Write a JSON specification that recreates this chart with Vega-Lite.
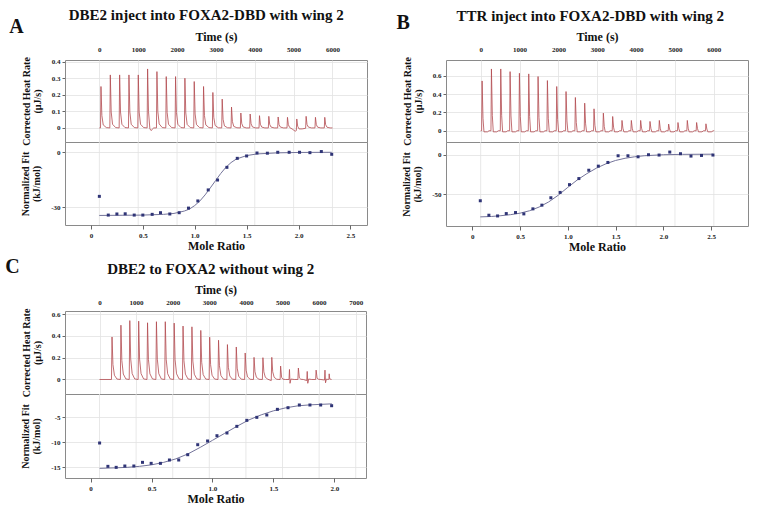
{
"$schema": "https://vega.github.io/schema/vega-lite/v6.json",
"background": "white",
"padding": {"left": 4, "top": 7, "right": 5, "bottom": 2},
"config": {
  "font": "Liberation Serif",
  "concat": {"spacing": 0},
  "view": {"stroke": "#8a8a8a", "strokeWidth": 1},
  "title": {"font": "Liberation Serif", "fontWeight": "bold", "fontSize": 15, "color": "#111111", "anchor": "middle"},
  "axis": {"labelFont": "Liberation Serif", "labelFontWeight": "bold", "labelFontSize": 7, "labelColor": "#222222",
           "titleFont": "Liberation Serif", "titleFontWeight": "bold", "titleColor": "#111111",
           "domain": false, "gridColor": "#e2e2e2", "gridWidth": 0.8, "tickColor": "#666666", "tickSize": 3},
  "axisY": {"titleFontSize": 10, "titleLineHeight": 11, "titlePadding": 9, "labelPadding": 2,
            "labelExpr": "datum.value < 0 ? '-' + format(-datum.value, '~g') : format(datum.value, '~g')"}
},
"datasets": {
  "gridT6": [{"t":0},{"t":1000},{"t":2000},{"t":3000},{"t":4000},{"t":5000},{"t":6000}],
  "gridT7": [{"t":0},{"t":1000},{"t":2000},{"t":3000},{"t":4000},{"t":5000},{"t":6000},{"t":7000}],
  "thermoA": [
{"t":0,"q":0},{"t":30,"q":0},{"t":42,"q":0.25},{"t":65,"q":0.075},{"t":100,"q":0.018},{"t":180,"q":0.002},
{"t":270,"q":0},{"t":282,"q":0.32},{"t":305,"q":0.096},{"t":340,"q":0.022},{"t":420,"q":0.002},
{"t":510,"q":0},{"t":522,"q":0.32},{"t":545,"q":0.096},{"t":580,"q":0.022},{"t":660,"q":0.002},
{"t":750,"q":0},{"t":762,"q":0.32},{"t":785,"q":0.096},{"t":820,"q":0.022},{"t":900,"q":0.002},
{"t":990,"q":0},{"t":1002,"q":0.32},{"t":1025,"q":0.096},{"t":1060,"q":0.022},{"t":1140,"q":0.002},
{"t":1230,"q":0},{"t":1242,"q":0.356},{"t":1265,"q":0.1},{"t":1300,"q":-0.005},{"t":1330,"q":-0.016},{"t":1400,"q":0},
{"t":1470,"q":0},{"t":1482,"q":0.34},{"t":1505,"q":0.1},{"t":1540,"q":0.024},{"t":1620,"q":0.002},
{"t":1710,"q":0},{"t":1722,"q":0.31},{"t":1745,"q":0.093},{"t":1780,"q":0.022},{"t":1860,"q":0.002},
{"t":1950,"q":0},{"t":1962,"q":0.31},{"t":1985,"q":0.093},{"t":2020,"q":0.022},{"t":2100,"q":0.002},
{"t":2190,"q":0},{"t":2202,"q":0.30},{"t":2225,"q":0.09},{"t":2260,"q":0.021},{"t":2340,"q":0.002},
{"t":2430,"q":0},{"t":2442,"q":0.28},{"t":2465,"q":0.084},{"t":2500,"q":0.02},{"t":2580,"q":0.002},
{"t":2670,"q":0},{"t":2682,"q":0.25},{"t":2705,"q":0.075},{"t":2740,"q":0.018},{"t":2820,"q":0.002},
{"t":2910,"q":0},{"t":2922,"q":0.214},{"t":2945,"q":0.064},{"t":2980,"q":0.015},{"t":3060,"q":0.001},
{"t":3150,"q":0},{"t":3162,"q":0.174},{"t":3185,"q":0.052},{"t":3220,"q":0.012},{"t":3300,"q":0.001},
{"t":3390,"q":0},{"t":3402,"q":0.126},{"t":3425,"q":0.038},{"t":3460,"q":0.009},{"t":3540,"q":0.001},
{"t":3630,"q":0},{"t":3642,"q":0.09},{"t":3665,"q":0.027},{"t":3700,"q":0.006},{"t":3780,"q":0},
{"t":3870,"q":0},{"t":3882,"q":0.084},{"t":3905,"q":0.025},{"t":3940,"q":0.006},{"t":4020,"q":0},
{"t":4110,"q":0},{"t":4122,"q":0.074},{"t":4145,"q":0.022},{"t":4180,"q":0.005},{"t":4260,"q":0},
{"t":4350,"q":0},{"t":4362,"q":0.07},{"t":4385,"q":0.021},{"t":4420,"q":0.005},{"t":4500,"q":0},
{"t":4590,"q":0},{"t":4602,"q":0.066},{"t":4625,"q":0.02},{"t":4660,"q":0.005},{"t":4740,"q":0},
{"t":4830,"q":0},{"t":4842,"q":0.064},{"t":4865,"q":0.019},{"t":4900,"q":0.002},{"t":4960,"q":-0.006},{"t":5040,"q":-0.02},
{"t":5070,"q":-0.016},{"t":5082,"q":0.054},{"t":5105,"q":0.01},{"t":5140,"q":-0.006},{"t":5220,"q":-0.006},
{"t":5310,"q":-0.002},{"t":5322,"q":0.07},{"t":5345,"q":0.021},{"t":5380,"q":0.005},{"t":5460,"q":0},
{"t":5550,"q":0},{"t":5562,"q":0.064},{"t":5585,"q":0.019},{"t":5620,"q":0.004},{"t":5700,"q":0},
{"t":5790,"q":0},{"t":5802,"q":0.064},{"t":5825,"q":0.019},{"t":5860,"q":0.004},{"t":5940,"q":0},{"t":6000,"q":0}
  ],
  "ptsA": [
{"mr":0.081,"h":-24.0},{"mr":0.167,"h":-34.2},{"mr":0.25,"h":-33.6},{"mr":0.33,"h":-33.5},{"mr":0.417,"h":-34.2},
{"mr":0.5,"h":-34.2},{"mr":0.59,"h":-33.8},{"mr":0.67,"h":-32.9},{"mr":0.76,"h":-33.6},{"mr":0.85,"h":-32.9},
{"mr":0.94,"h":-30.4},{"mr":1.03,"h":-26.5},{"mr":1.13,"h":-20.5},{"mr":1.22,"h":-15.1},{"mr":1.31,"h":-8.2},
{"mr":1.41,"h":-3.3},{"mr":1.5,"h":-2.0},{"mr":1.6,"h":-0.4},{"mr":1.7,"h":-0.5},{"mr":1.8,"h":0},
{"mr":1.91,"h":0},{"mr":2.01,"h":0},{"mr":2.11,"h":-0.2},{"mr":2.22,"h":0.4},{"mr":2.32,"h":-1.1}
  ],
  "fitA": [
{"mr":0.08,"h":-34.4},{"mr":0.3,"h":-34.3},{"mr":0.5,"h":-34.2},{"mr":0.7,"h":-33.8},{"mr":0.8,"h":-33.3},
{"mr":0.9,"h":-32.0},{"mr":0.95,"h":-30.9},{"mr":1.0,"h":-29.0},{"mr":1.05,"h":-26.5},{"mr":1.1,"h":-23.2},
{"mr":1.15,"h":-19.4},{"mr":1.2,"h":-15.5},{"mr":1.25,"h":-11.6},{"mr":1.3,"h":-8.2},{"mr":1.35,"h":-5.6},
{"mr":1.4,"h":-3.7},{"mr":1.5,"h":-1.8},{"mr":1.6,"h":-0.9},{"mr":1.8,"h":-0.3},{"mr":2.0,"h":-0.1},{"mr":2.32,"h":0}
  ],
  "thermoB": [
{"t":0,"q":0},{"t":25,"q":0},{"t":37,"q":0.545},{"t":60,"q":0.136},{"t":85,"q":-0.012},{"t":175,"q":-0.012},{"t":215,"q":0},
{"t":265,"q":0},{"t":277,"q":0.676},{"t":300,"q":0.169},{"t":325,"q":-0.012},{"t":415,"q":-0.012},{"t":455,"q":0},
{"t":505,"q":0},{"t":517,"q":0.676},{"t":540,"q":0.169},{"t":565,"q":-0.012},{"t":655,"q":-0.012},{"t":695,"q":0},
{"t":745,"q":0},{"t":757,"q":0.647},{"t":780,"q":0.162},{"t":805,"q":-0.012},{"t":895,"q":-0.012},{"t":935,"q":0},
{"t":985,"q":0},{"t":997,"q":0.629},{"t":1020,"q":0.157},{"t":1045,"q":-0.012},{"t":1135,"q":-0.012},{"t":1175,"q":0},
{"t":1225,"q":0},{"t":1237,"q":0.622},{"t":1260,"q":0.156},{"t":1285,"q":-0.012},{"t":1375,"q":-0.012},{"t":1415,"q":0},
{"t":1465,"q":0},{"t":1477,"q":0.593},{"t":1500,"q":0.148},{"t":1525,"q":-0.012},{"t":1615,"q":-0.012},{"t":1655,"q":0},
{"t":1705,"q":0},{"t":1717,"q":0.549},{"t":1740,"q":0.137},{"t":1765,"q":-0.012},{"t":1855,"q":-0.012},{"t":1895,"q":0},
{"t":1945,"q":0},{"t":1957,"q":0.484},{"t":1980,"q":0.121},{"t":2005,"q":-0.012},{"t":2095,"q":-0.012},{"t":2135,"q":0},
{"t":2185,"q":0},{"t":2197,"q":0.429},{"t":2220,"q":0.107},{"t":2245,"q":-0.012},{"t":2335,"q":-0.012},{"t":2375,"q":0},
{"t":2425,"q":0},{"t":2437,"q":0.364},{"t":2460,"q":0.091},{"t":2485,"q":-0.012},{"t":2575,"q":-0.012},{"t":2615,"q":0},
{"t":2665,"q":0},{"t":2677,"q":0.302},{"t":2700,"q":0.076},{"t":2725,"q":-0.012},{"t":2815,"q":-0.012},{"t":2855,"q":0},
{"t":2905,"q":0},{"t":2917,"q":0.24},{"t":2940,"q":0.06},{"t":2965,"q":-0.012},{"t":3055,"q":-0.012},{"t":3095,"q":0},
{"t":3145,"q":0},{"t":3157,"q":0.193},{"t":3180,"q":0.048},{"t":3205,"q":-0.012},{"t":3295,"q":-0.012},{"t":3335,"q":0},
{"t":3385,"q":0},{"t":3397,"q":0.156},{"t":3420,"q":0.039},{"t":3445,"q":-0.012},{"t":3535,"q":-0.012},{"t":3575,"q":0},
{"t":3625,"q":0},{"t":3637,"q":0.113},{"t":3660,"q":0.028},{"t":3685,"q":-0.012},{"t":3775,"q":-0.012},{"t":3815,"q":0},
{"t":3865,"q":0},{"t":3877,"q":0.113},{"t":3900,"q":0.028},{"t":3925,"q":-0.012},{"t":4015,"q":-0.012},{"t":4055,"q":0},
{"t":4105,"q":0},{"t":4117,"q":0.113},{"t":4140,"q":0.028},{"t":4165,"q":-0.012},{"t":4255,"q":-0.012},{"t":4295,"q":0},
{"t":4345,"q":0},{"t":4357,"q":0.102},{"t":4380,"q":0.026},{"t":4405,"q":-0.012},{"t":4495,"q":-0.012},{"t":4535,"q":0},
{"t":4585,"q":0},{"t":4597,"q":0.113},{"t":4620,"q":0.028},{"t":4645,"q":-0.012},{"t":4735,"q":-0.012},{"t":4775,"q":0},
{"t":4825,"q":0},{"t":4837,"q":0.073},{"t":4860,"q":0.018},{"t":4885,"q":-0.012},{"t":4975,"q":-0.012},{"t":5015,"q":0},
{"t":5065,"q":0},{"t":5077,"q":0.09},{"t":5100,"q":0.023},{"t":5125,"q":-0.012},{"t":5215,"q":-0.012},{"t":5255,"q":0},
{"t":5305,"q":0},{"t":5317,"q":0.113},{"t":5340,"q":0.028},{"t":5365,"q":-0.012},{"t":5455,"q":-0.012},{"t":5495,"q":0},
{"t":5545,"q":0},{"t":5557,"q":0.09},{"t":5580,"q":0.023},{"t":5605,"q":-0.012},{"t":5695,"q":-0.012},{"t":5735,"q":0},
{"t":5785,"q":0},{"t":5797,"q":0.076},{"t":5820,"q":0.019},{"t":5845,"q":-0.012},{"t":5935,"q":-0.012},{"t":5985,"q":0},{"t":6010,"q":0}
  ],
  "ptsB": [
{"mr":0.084,"h":-58.5},{"mr":0.174,"h":-76.9},{"mr":0.265,"h":-77.8},{"mr":0.356,"h":-74.8},{"mr":0.453,"h":-73.5},
{"mr":0.54,"h":-75.2},{"mr":0.635,"h":-68.8},{"mr":0.729,"h":-64.1},{"mr":0.823,"h":-54.7},{"mr":0.92,"h":-47.9},
{"mr":1.018,"h":-38.0},{"mr":1.116,"h":-30.3},{"mr":1.22,"h":-19.7},{"mr":1.32,"h":-14.5},{"mr":1.42,"h":-9.8},
{"mr":1.527,"h":-1.3},{"mr":1.63,"h":-1.3},{"mr":1.736,"h":-2.6},{"mr":1.845,"h":0},{"mr":1.956,"h":-0.4},
{"mr":2.068,"h":3.4},{"mr":2.18,"h":1.3},{"mr":2.29,"h":-1.7},{"mr":2.4,"h":-0.9},{"mr":2.52,"h":-0.4}
  ],
  "fitB": [
{"mr":0.084,"h":-79},{"mr":0.2,"h":-78.5},{"mr":0.3,"h":-77.5},{"mr":0.4,"h":-76.2},{"mr":0.5,"h":-74.3},
{"mr":0.6,"h":-71.2},{"mr":0.7,"h":-66.5},{"mr":0.8,"h":-60},{"mr":0.9,"h":-51.5},{"mr":1.0,"h":-41.5},
{"mr":1.1,"h":-32},{"mr":1.2,"h":-24},{"mr":1.3,"h":-17},{"mr":1.4,"h":-11.5},{"mr":1.5,"h":-7.3},
{"mr":1.6,"h":-4.5},{"mr":1.7,"h":-2.6},{"mr":1.8,"h":-1.3},{"mr":2.0,"h":0},{"mr":2.2,"h":0.5},{"mr":2.52,"h":0.7}
  ],
  "thermoC": [
{"t":0,"q":0},
{"t":327,"q":0},{"t":342,"q":0.39},{"t":367,"q":0.137},{"t":407,"q":0.039},{"t":477,"q":0.004},
{"t":570,"q":0},{"t":585,"q":0.498},{"t":610,"q":0.174},{"t":650,"q":0.05},{"t":720,"q":0.005},
{"t":812,"q":0},{"t":827,"q":0.54},{"t":852,"q":0.189},{"t":892,"q":0.054},{"t":962,"q":0.005},
{"t":1055,"q":0},{"t":1070,"q":0.535},{"t":1095,"q":0.187},{"t":1135,"q":0.054},{"t":1205,"q":0.005},
{"t":1297,"q":0},{"t":1312,"q":0.52},{"t":1337,"q":0.182},{"t":1377,"q":0.052},{"t":1447,"q":0.005},
{"t":1540,"q":0},{"t":1555,"q":0.53},{"t":1580,"q":0.186},{"t":1620,"q":0.053},{"t":1690,"q":0.005},
{"t":1782,"q":0},{"t":1797,"q":0.53},{"t":1822,"q":0.186},{"t":1862,"q":0.053},{"t":1932,"q":0.005},
{"t":2025,"q":0},{"t":2040,"q":0.517},{"t":2065,"q":0.181},{"t":2105,"q":0.052},{"t":2175,"q":0.005},
{"t":2267,"q":0},{"t":2282,"q":0.49},{"t":2307,"q":0.172},{"t":2347,"q":0.049},{"t":2417,"q":0.005},
{"t":2510,"q":0},{"t":2525,"q":0.483},{"t":2550,"q":0.169},{"t":2590,"q":0.048},{"t":2660,"q":0.005},
{"t":2752,"q":0},{"t":2767,"q":0.45},{"t":2792,"q":0.158},{"t":2832,"q":0.045},{"t":2902,"q":0.004},
{"t":2995,"q":0},{"t":3010,"q":0.388},{"t":3035,"q":0.136},{"t":3075,"q":0.039},{"t":3145,"q":0.004},
{"t":3237,"q":0},{"t":3252,"q":0.36},{"t":3277,"q":0.126},{"t":3317,"q":0.036},{"t":3387,"q":0.003},
{"t":3480,"q":0},{"t":3495,"q":0.32},{"t":3520,"q":0.112},{"t":3560,"q":0.032},{"t":3630,"q":0.003},
{"t":3722,"q":0},{"t":3737,"q":0.298},{"t":3762,"q":0.104},{"t":3802,"q":0.03},{"t":3872,"q":0.003},
{"t":3965,"q":0},{"t":3980,"q":0.243},{"t":4005,"q":0.085},{"t":4045,"q":0.024},{"t":4115,"q":0.002},
{"t":4207,"q":0},{"t":4222,"q":0.203},{"t":4247,"q":0.071},{"t":4287,"q":0.02},{"t":4357,"q":0.002},
{"t":4450,"q":0},{"t":4465,"q":0.2},{"t":4490,"q":0.07},{"t":4530,"q":0.02},{"t":4600,"q":0.002},
{"t":4692,"q":-0.01},{"t":4707,"q":0.203},{"t":4732,"q":0.071},{"t":4772,"q":0.02},{"t":4842,"q":0.002},
{"t":4935,"q":0},{"t":4948,"q":0.123},{"t":4975,"q":0.02},{"t":5010,"q":0.003},{"t":5080,"q":0},
{"t":5177,"q":0},{"t":5190,"q":0.092},{"t":5205,"q":-0.035},{"t":5230,"q":0.004},{"t":5320,"q":0},
{"t":5420,"q":0},{"t":5433,"q":0.105},{"t":5460,"q":0.015},{"t":5500,"q":0.002},{"t":5570,"q":0},
{"t":5662,"q":-0.01},{"t":5675,"q":0.074},{"t":5690,"q":-0.035},{"t":5715,"q":0.004},{"t":5800,"q":0},
{"t":5905,"q":0},{"t":5918,"q":0.086},{"t":5945,"q":0.012},{"t":5985,"q":0.002},{"t":6050,"q":0},
{"t":6147,"q":-0.005},{"t":6160,"q":0.086},{"t":6175,"q":-0.03},{"t":6200,"q":0.003},{"t":6255,"q":0},
{"t":6267,"q":0},{"t":6275,"q":0.052},{"t":6290,"q":0.005},{"t":6340,"q":0}
  ],
  "ptsC": [
{"mr":0.074,"h":-10.13},{"mr":0.142,"h":-14.8},{"mr":0.21,"h":-15.0},{"mr":0.281,"h":-14.73},{"mr":0.355,"h":-14.73},
{"mr":0.426,"h":-14.0},{"mr":0.497,"h":-14.2},{"mr":0.573,"h":-14.2},{"mr":0.647,"h":-13.53},{"mr":0.723,"h":-13.53},
{"mr":0.797,"h":-12.47},{"mr":0.879,"h":-10.47},{"mr":0.96,"h":-9.73},{"mr":1.037,"h":-8.67},{"mr":1.119,"h":-8.13},
{"mr":1.2,"h":-6.8},{"mr":1.282,"h":-5.6},{"mr":1.364,"h":-5.0},{"mr":1.446,"h":-4.53},{"mr":1.533,"h":-3.4},
{"mr":1.62,"h":-3.07},{"mr":1.713,"h":-2.53},{"mr":1.8,"h":-2.53},{"mr":1.888,"h":-2.53},{"mr":1.978,"h":-2.67}
  ],
  "fitC": [
{"mr":0.074,"h":-15.2},{"mr":0.2,"h":-15.1},{"mr":0.3,"h":-15.0},{"mr":0.4,"h":-14.8},{"mr":0.5,"h":-14.5},
{"mr":0.6,"h":-14.0},{"mr":0.7,"h":-13.3},{"mr":0.8,"h":-12.3},{"mr":0.9,"h":-11.0},{"mr":1.0,"h":-9.6},
{"mr":1.1,"h":-8.2},{"mr":1.2,"h":-6.8},{"mr":1.3,"h":-5.5},{"mr":1.4,"h":-4.5},{"mr":1.5,"h":-3.7},
{"mr":1.6,"h":-3.1},{"mr":1.7,"h":-2.7},{"mr":1.8,"h":-2.5},{"mr":1.98,"h":-2.3}
  ]
},
"spacing": 3,
"vconcat": [
{
  "spacing": 28,
  "hconcat": [
  {
    "title": {"text": "DBE2 inject into FOXA2-DBD with wing 2", "anchor": "middle", "dx": 18, "offset": -6},
    "spacing": 0,
    "bounds": "flush",
    "vconcat": [
    {
      "width": 302, "height": 82,
      "data": {"name": "thermoA"},
      "title": {"text": "A", "orient": "left", "anchor": "end", "angle": 0, "align": "right", "baseline": "bottom", "fontSize": 20, "offset": -17, "dy": 7},
      "mark": {"type": "line", "color": "#b34a4f", "strokeWidth": 0.8},
      "encoding": {
        "x": {"field": "t", "type": "quantitative", "scale": {"domain": [-884, 6889], "nice": false, "zero": false},
              "axis": {"orient": "top", "title": "Time (s)", "format": "d", "values": [0,1000,2000,3000,4000,5000,6000], "ticks": false, "labelPadding": 8, "titlePadding": 2, "titleFontSize": 12}},
        "y": {"field": "q", "type": "quantitative", "scale": {"domain": [-0.085, 0.41], "nice": false, "zero": false},
              "axis": {"values": [0,0.1,0.2,0.3,0.4], "title": ["Corrected Heat Rate", "(µJ/s)"]}}
      }
    },
    {
      "width": 302, "height": 83,
      "resolve": {"scale": {"x": "independent"}, "axis": {"x": "independent"}},
      "layer": [
        {"data": {"name": "gridT6"}, "mark": {"type": "rule", "color": "#e2e2e2", "strokeWidth": 0.8},
         "encoding": {"x": {"field": "t", "type": "quantitative", "scale": {"domain": [-884, 6889], "nice": false, "zero": false}, "axis": null}}},
        {"layer": [
          {"data": {"name": "fitA"}, "mark": {"type": "line", "color": "#74749a", "strokeWidth": 1},
           "encoding": {
             "x": {"field": "mr", "type": "quantitative", "scale": {"domain": [-0.25, 2.66], "nice": false, "zero": false},
                   "axis": {"title": "Mole Ratio", "titleFontSize": 12, "titlePadding": 2, "values": [0,0.5,1,1.5,2,2.5], "grid": false, "tickSize": 4, "labelPadding": 2,
                            "labelExpr": "datum.value == 0 ? '0' : format(datum.value, '.1f')"}},
             "y": {"field": "h", "type": "quantitative", "scale": {"domain": [-39.6, 5.6], "nice": false, "zero": false},
                   "axis": {"values": [0,-10,-20,-30], "title": ["Normalized Fit", "(kJ/mol)"]}}}},
          {"data": {"name": "ptsA"}, "mark": {"type": "square", "filled": true, "size": 9, "color": "#2f3476", "opacity": 1},
           "encoding": {"x": {"field": "mr", "type": "quantitative"}, "y": {"field": "h", "type": "quantitative"}}}
        ]}
      ]
    }
    ]
  },
  {
    "title": {"text": "TTR inject into FOXA2-DBD with wing 2", "anchor": "middle", "dx": 18, "offset": -11},
    "spacing": 0,
    "bounds": "flush",
    "vconcat": [
    {
      "width": 302, "height": 82,
      "data": {"name": "thermoB"},
      "title": {"text": "B", "orient": "left", "anchor": "end", "angle": 0, "align": "right", "baseline": "bottom", "fontSize": 20, "offset": -21, "dy": 3},
      "mark": {"type": "line", "color": "#b34a4f", "strokeWidth": 0.8},
      "encoding": {
        "x": {"field": "t", "type": "quantitative", "scale": {"domain": [-892, 6879], "nice": false, "zero": false},
              "axis": {"orient": "top", "title": "Time (s)", "format": "d", "values": [0,1000,2000,3000,4000,5000,6000], "ticks": false, "labelPadding": 8, "titlePadding": 2, "titleFontSize": 12}},
        "y": {"field": "q", "type": "quantitative", "scale": {"domain": [-0.123, 0.774], "nice": false, "zero": false},
              "axis": {"values": [0,0.2,0.4,0.6], "title": ["Corrected Heat Rate", "(µJ/s)"]}}
      }
    },
    {
      "width": 302, "height": 84,
      "resolve": {"scale": {"x": "independent"}, "axis": {"x": "independent"}},
      "layer": [
        {"data": {"name": "gridT6"}, "mark": {"type": "rule", "color": "#e2e2e2", "strokeWidth": 0.8},
         "encoding": {"x": {"field": "t", "type": "quantitative", "scale": {"domain": [-892, 6879], "nice": false, "zero": false}, "axis": null}}},
        {"layer": [
          {"data": {"name": "fitB"}, "mark": {"type": "line", "color": "#74749a", "strokeWidth": 1},
           "encoding": {
             "x": {"field": "mr", "type": "quantitative", "scale": {"domain": [-0.275, 2.887], "nice": false, "zero": false},
                   "axis": {"title": "Mole Ratio", "titleFontSize": 12, "titlePadding": 2, "values": [0,0.5,1,1.5,2,2.5], "grid": false, "tickSize": 4, "labelPadding": 2,
                            "labelExpr": "datum.value == 0 ? '0' : format(datum.value, '.1f')"}},
             "y": {"field": "h", "type": "quantitative", "scale": {"domain": [-90.6, 16.2], "nice": false, "zero": false},
                   "axis": {"values": [0,-50], "title": ["Normalized Fit", "(kJ/mol)"]}}}},
          {"data": {"name": "ptsB"}, "mark": {"type": "square", "filled": true, "size": 9, "color": "#2f3476", "opacity": 1},
           "encoding": {"x": {"field": "mr", "type": "quantitative"}, "y": {"field": "h", "type": "quantitative"}}}
        ]}
      ]
    }
    ]
  }
  ]
},
{
  "title": {"text": "DBE2 to FOXA2 without wing 2", "anchor": "middle", "dx": 25, "offset": -20},
  "spacing": 0,
  "bounds": "flush",
  "vconcat": [
  {
    "width": 301, "height": 83,
    "data": {"name": "thermoC"},
    "title": {"text": "C", "orient": "left", "anchor": "end", "angle": 0, "align": "right", "baseline": "bottom", "fontSize": 20, "offset": -13, "dy": -6},
    "mark": {"type": "line", "color": "#b34a4f", "strokeWidth": 0.8},
    "encoding": {
      "x": {"field": "t", "type": "quantitative", "scale": {"domain": [-943, 7281], "nice": false, "zero": false},
            "axis": {"orient": "top", "title": "Time (s)", "format": "d", "values": [0,1000,2000,3000,4000,5000,6000,7000], "ticks": false, "labelPadding": 6, "titlePadding": 2, "titleFontSize": 12}},
      "y": {"field": "q", "type": "quantitative", "scale": {"domain": [-0.133, 0.628], "nice": false, "zero": false},
            "axis": {"values": [0,0.2,0.4,0.6], "title": ["Corrected Heat Rate", "(µJ/s)"]}}
    }
  },
  {
    "width": 301, "height": 84,
    "resolve": {"scale": {"x": "independent"}, "axis": {"x": "independent"}},
    "layer": [
      {"data": {"name": "gridT7"}, "mark": {"type": "rule", "color": "#e2e2e2", "strokeWidth": 0.8},
       "encoding": {"x": {"field": "t", "type": "quantitative", "scale": {"domain": [-943, 7281], "nice": false, "zero": false}, "axis": null}}},
      {"layer": [
        {"data": {"name": "fitC"}, "mark": {"type": "line", "color": "#74749a", "strokeWidth": 1},
         "encoding": {
           "x": {"field": "mr", "type": "quantitative", "scale": {"domain": [-0.21, 2.26], "nice": false, "zero": false},
                 "axis": {"title": "Mole Ratio", "titleFontSize": 12, "titlePadding": 2, "values": [0,0.5,1,1.5,2], "grid": false, "tickSize": 4, "labelPadding": 2,
                          "labelExpr": "datum.value == 0 ? '0' : format(datum.value, '.1f')"}},
           "y": {"field": "h", "type": "quantitative", "scale": {"domain": [-17.13, -0.33], "nice": false, "zero": false},
                 "axis": {"values": [-5,-10,-15], "title": ["Normalized Fit", "(kJ/mol)"]}}}},
        {"data": {"name": "ptsC"}, "mark": {"type": "square", "filled": true, "size": 9, "color": "#2f3476", "opacity": 1},
         "encoding": {"x": {"field": "mr", "type": "quantitative"}, "y": {"field": "h", "type": "quantitative"}}}
      ]}
    ]
  }
  ]
}
]
}
